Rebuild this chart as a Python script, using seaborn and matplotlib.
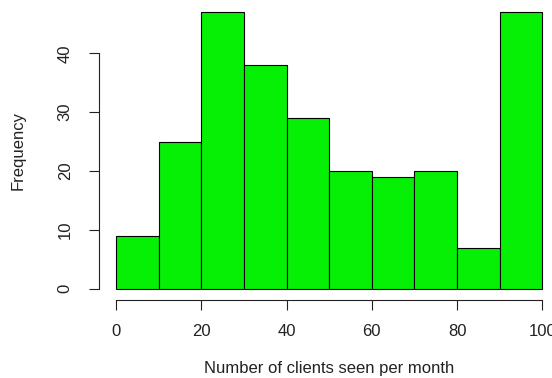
import numpy as np
import pandas as pd
import matplotlib
matplotlib.use("Agg")
import matplotlib.pyplot as plt
import seaborn as sns

# Histogram of monthly client counts (10-client bins)
bin_edges = [0, 10, 20, 30, 40, 50, 60, 70, 80, 90, 100]
frequencies = [9, 25, 47, 38, 29, 20, 19, 20, 7, 47]
x_ticks = [0, 20, 40, 60, 80, 100]
y_ticks = [0, 10, 20, 30, 40]
x_label = "Number of clients seen per month"
y_label = "Frequency"

sns.set_style("ticks")
plt.rcParams["font.family"] = ["Liberation Sans", "DejaVu Sans"]

edges = np.asarray(bin_edges, dtype=float)
df = pd.DataFrame({
    "clients": (edges[:-1] + edges[1:]) / 2,
    "count": frequencies,
})

W, H = 552, 378
fig = plt.figure(figsize=(W / 100, H / 100), dpi=100)
fig.patch.set_facecolor("white")

# plot region placed in pixel units
left, right = 98.95, 559.4
top, bottom = 1.04, 299.8
ax = fig.add_axes([left / W, 1 - bottom / H, (right - left) / W, (bottom - top) / H])
ax.set_facecolor("white")

sns.histplot(data=df, x="clients", weights="count", bins=bin_edges,
             color="#06f006", edgecolor="black", linewidth=0.8, alpha=1.0, ax=ax)

ymax = max(frequencies)
ax.set_xlim(bin_edges[0] - 0.04 * (bin_edges[-1] - bin_edges[0]),
            bin_edges[-1] + 0.04 * (bin_edges[-1] - bin_edges[0]))
ax.set_ylim(-0.04 * ymax, ymax * 1.04)

# base-graphics style axes: open frame, axis lines only across tick range
for side in ("top", "right"):
    ax.spines[side].set_visible(False)
ax.spines["left"].set_bounds(y_ticks[0], y_ticks[-1])
ax.spines["bottom"].set_bounds(x_ticks[0], x_ticks[-1])
for side in ("left", "bottom"):
    ax.spines[side].set_linewidth(0.8)
    ax.spines[side].set_color("#222222")

ax.set_xticks(x_ticks)
ax.set_yticks(y_ticks)
ax.tick_params(axis="both", which="major", direction="out", length=7.5, width=0.8,
               color="#222222", labelsize=12, labelcolor="#222222",
               bottom=True, left=True, top=False, right=False)
ax.tick_params(axis="x", pad=9.8)
ax.tick_params(axis="y", pad=11.4)
for lab in ax.get_yticklabels():
    lab.set_rotation(90)
    lab.set_va("center")
    lab.set_ha("right")

ax.set_xlabel(x_label, fontsize=12, color="#222222")
ax.set_ylabel(y_label, fontsize=12, color="#222222")
ax.xaxis.set_label_coords(0.5, -0.205)
ax.yaxis.set_label_coords(-0.1595, 0.5)

fig.savefig("out.png", dpi=100, facecolor="white")
